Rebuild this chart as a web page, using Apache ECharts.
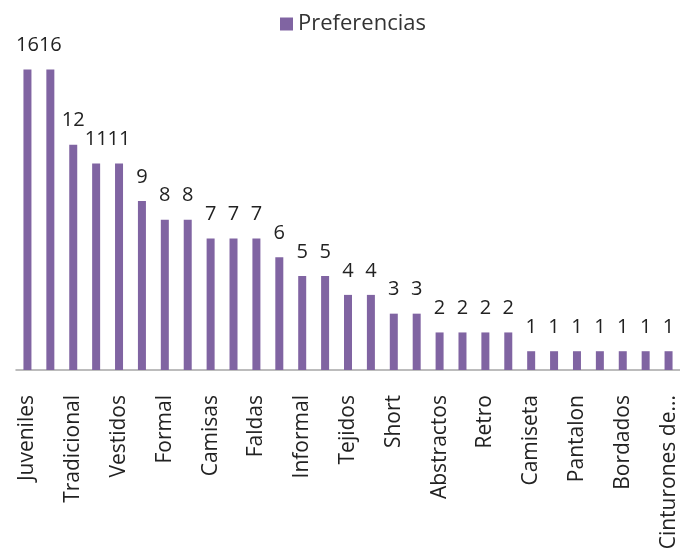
<!DOCTYPE html>
<html>
<head>
<meta charset="UTF-8">
<title>Preferencias</title>
<script src="https://cdn.jsdelivr.net/npm/echarts@6/dist/echarts.min.js"></script>
<style>
  html, body { margin: 0; padding: 0; background: #fff; }
  #main { width: 680px; height: 554px; }
</style>
</head>
<body>
<div id="main"></div>
<script>
// categorias (solo las pares tienen etiqueta visible en el original)
var categorias = [
  'Juveniles', '', 'Tradicional', '', 'Vestidos', '', 'Formal', '', 'Camisas', '',
  'Faldas', '', 'Informal', '', 'Tejidos', '', 'Short', '', 'Abstractos', '',
  'Retro', '', 'Camiseta', '', 'Pantalon', '', 'Bordados', '', 'Cinturones de...'
];
var preferencias = [16, 16, 12, 11, 11, 9, 8, 8, 7, 7, 7, 6, 5, 5, 4, 4, 3, 3, 2, 2, 2, 2, 1, 1, 1, 1, 1, 1, 1];

var fuente = '"Open Sans", "Noto Sans", sans-serif';
var chart = echarts.init(document.getElementById('main'));

chart.setOption({
  animation: false,
  legend: {
    top: 8,
    left: 275,
    itemWidth: 13,
    itemHeight: 13,
    itemGap: 8,
    textStyle: { fontFamily: fuente, fontSize: 22, color: '#333' },
    data: [{ name: 'Preferencias', icon: 'rect' }]
  },
  grid: { left: 16, right: -3, top: 32, bottom: 184, containLabel: false },
  xAxis: {
    type: 'category',
    data: categorias,
    axisTick: { show: false },
    axisLine: { lineStyle: { color: '#a6a6a6', width: 1.5 } },
    axisLabel: {
      interval: 0,
      rotate: 90,
      margin: 25,
      fontFamily: fuente,
      fontSize: 21,
      color: '#222'
    }
  },
  yAxis: {
    type: 'value',
    min: 0,
    max: 18,
    show: false,
    splitLine: { show: false }
  },
  series: [{
    name: 'Preferencias',
    type: 'bar',
    data: preferencias,
    barWidth: 8,
    itemStyle: { color: '#8064a2' },
    label: {
      show: true,
      position: 'top',
      distance: 14,
      fontFamily: fuente,
      fontSize: 20,
      color: '#222'
    }
  }]
});
</script>
</body>
</html>
